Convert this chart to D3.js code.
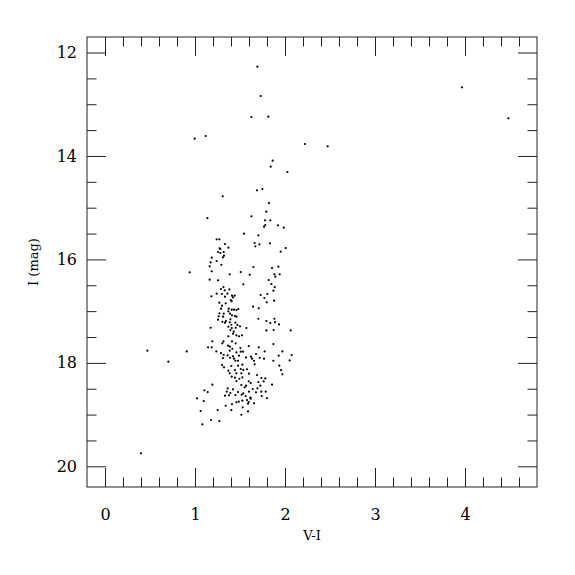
<!DOCTYPE html>
<html>
<head>
<meta charset="utf-8">
<script src="https://cdn.jsdelivr.net/npm/d3@7"></script>
<style>
  html, body { margin: 0; padding: 0; background: #fff; }
  svg { display: block; }
  .axis text { font-family: "DejaVu Serif", serif; font-size: 16px; fill: #000; }
  .axis line { stroke: #222; }
  .label { font-family: "DejaVu Serif", serif; font-size: 13px; fill: #000; }
</style>
</head>
<body>
<script>
// V-I colour index
const vi = [
  1.693, 3.967, 1.730, 1.627, 1.815, 4.482, 0.997, 1.119, 2.222, 2.474,
  1.863, 1.841, 2.027, 1.749, 1.689, 1.308, 1.822,
  1.792, 1.138, 1.627, 1.778, 1.837, 1.781, 1.767, 1.922, 1.986, 1.545,
  1.704, 1.241, 1.271, 1.333, 1.663, 1.716, 1.671, 1.833, 1.274, 1.282,
  1.371, 2.008, 1.256, 1.282, 1.319, 1.952, 1.322, 1.311, 1.186, 1.174,
  1.241, 1.293, 1.163, 1.649, 1.856, 1.927, 1.186, 0.941, 1.508, 1.608,
  1.882, 1.941, 1.386,
  1.893, 1.163, 1.256, 1.819, 1.537, 1.849, 1.316, 1.886, 1.289, 1.330,
  1.382, 1.871, 1.241, 1.300, 1.360, 1.730, 1.804, 1.182, 1.411, 1.441,
  1.333, 1.422, 1.771, 1.397, 1.408, 1.878, 1.271, 1.341, 1.797, 1.300,
  1.645, 1.708, 1.289, 1.374, 1.408, 1.433, 1.460, 1.482, 1.371, 1.271,
  1.319, 1.389, 1.444, 1.411, 1.263, 1.311, 1.460, 1.704, 1.882,
  1.256, 1.304, 1.333, 1.344, 1.393, 1.386, 1.449, 1.793, 1.837, 1.890,
  1.933, 1.404, 1.471, 1.174, 1.371, 1.408, 1.452, 1.500, 1.571, 1.393,
  1.430, 1.793, 1.874, 2.063, 1.422, 1.460, 1.489, 1.522, 1.371, 1.193,
  1.316, 1.304, 1.411, 1.452, 1.871, 1.145, 1.186, 1.367, 1.389, 1.415,
  1.597, 1.504, 1.708, 0.908, 1.237, 1.289, 1.386, 1.460, 1.508, 1.534,
  1.774, 1.971, 1.319, 1.363, 1.422, 1.489, 1.678, 1.930, 2.074, 1.311,
  1.389, 1.433, 1.567, 1.622, 1.634, 1.719, 1.767, 1.449, 1.478, 1.656,
  1.871, 2.052, 0.471, 0.704, 0.400,
  1.300, 1.322, 1.404, 1.478, 1.526, 1.663, 1.937, 1.956, 1.971, 1.371,
  1.444, 1.508, 1.537, 1.578, 1.386, 1.460, 1.515, 1.600, 1.689, 1.408,
  1.444, 1.493, 1.526, 1.737, 1.781, 1.460, 1.597, 1.619, 1.704, 1.763,
  1.856, 1.193, 1.515, 1.567, 1.726, 1.363, 1.422, 1.552, 1.641, 1.693,
  1.104, 1.141, 1.352, 1.393, 1.478, 1.537, 1.600, 1.678, 1.737, 1.786,
  1.333, 1.378, 1.449, 1.519, 1.563, 1.615, 1.741, 1.022,
  1.097, 1.341, 1.411, 1.460, 1.486, 1.526, 1.578, 1.597, 1.619, 1.589,
  1.656, 1.800, 1.063, 1.252, 1.404, 1.530, 1.589, 1.515, 1.178, 1.271,
  1.082
];
// I magnitude
const imag = [
  12.274, 12.673, 12.841, 13.247, 13.241, 13.272, 13.666, 13.614, 13.769, 13.813,
  14.092, 14.208, 14.310, 14.639, 14.664, 14.780, 14.910,
  15.078, 15.200, 15.167, 15.244, 15.244, 15.335, 15.368, 15.341, 15.387, 15.503,
  15.534, 15.612, 15.612, 15.702, 15.683, 15.708, 15.747, 15.689, 15.786, 15.799,
  15.774, 15.780, 15.857, 15.876, 15.857, 15.851, 15.928, 15.960, 15.967, 16.056,
  16.031, 16.103, 16.134, 16.147, 16.166, 16.141, 16.230, 16.250, 16.244, 16.296,
  16.288, 16.288, 16.288,
  16.334, 16.392, 16.405, 16.398, 16.482, 16.476, 16.534, 16.534, 16.572, 16.598,
  16.579, 16.605, 16.663, 16.669, 16.663, 16.688, 16.669, 16.714, 16.702, 16.702,
  16.721, 16.733, 16.746, 16.785, 16.810, 16.798, 16.837, 16.849, 16.830, 16.895,
  16.914, 16.946, 16.953, 16.953, 16.972, 16.972, 16.978, 16.959, 17.004, 17.042,
  17.050, 17.050, 17.094, 17.081, 17.100, 17.107, 17.107, 17.147, 17.147,
  17.166, 17.205, 17.224, 17.191, 17.158, 17.217, 17.224, 17.191, 17.230, 17.211,
  17.256, 17.263, 17.269, 17.321, 17.301, 17.326, 17.321, 17.294, 17.326, 17.365,
  17.398, 17.372, 17.365, 17.372, 17.437, 17.468, 17.487, 17.468, 17.487, 17.584,
  17.584, 17.622, 17.584, 17.622, 17.636, 17.700, 17.700, 17.668, 17.688, 17.727,
  17.675, 17.713, 17.700, 17.778, 17.778, 17.810, 17.765, 17.797, 17.784, 17.784,
  17.778, 17.778, 17.843, 17.855, 17.874, 17.862, 17.829, 17.862, 17.849, 17.907,
  17.901, 17.920, 17.894, 17.881, 17.920, 17.901, 17.920, 17.959, 17.959, 17.959,
  17.959, 17.952, 17.765, 17.978, 19.749,
  18.042, 18.087, 18.061, 18.055, 18.036, 18.028, 18.055, 18.139, 18.222, 18.152,
  18.139, 18.119, 18.139, 18.125, 18.203, 18.203, 18.203, 18.210, 18.235, 18.267,
  18.287, 18.307, 18.280, 18.293, 18.300, 18.351, 18.357, 18.390, 18.370, 18.357,
  18.422, 18.422, 18.428, 18.442, 18.442, 18.493, 18.512, 18.473, 18.506, 18.493,
  18.531, 18.564, 18.558, 18.583, 18.564, 18.589, 18.558, 18.570, 18.558, 18.558,
  18.635, 18.628, 18.622, 18.616, 18.641, 18.674, 18.641, 18.686,
  18.738, 18.829, 18.796, 18.763, 18.751, 18.732, 18.719, 18.757, 18.693, 18.790,
  18.783, 18.680, 18.931, 18.912, 18.912, 18.860, 18.938, 19.003, 19.105, 19.125,
  19.189
];
const xMajor = [0, 1, 2, 3, 4];
const xMinor = [0.2, 0.4, 0.6, 0.8, 1.2, 1.4, 1.6, 1.8, 2.2, 2.4, 2.6, 2.8,
                3.2, 3.4, 3.6, 3.8, 4.2, 4.4, 4.6];
const yMajor = [12, 14, 16, 18, 20];
const yMinor = [12.5, 13, 13.5, 14.5, 15, 15.5, 16.5, 17, 17.5, 18.5, 19, 19.5];
const xTitle = "V-I";
const yTitle = "I (mag)";

const W = 575, H = 575;
const L = 87, T = 37, R = 537, B = 487;
const majLen = 19, minLen = 9.5;

const svg = d3.select("body").append("svg").attr("width", W).attr("height", H);

const x = d3.scaleLinear().domain([-0.2, 4.8]).range([L, R]);
const y = d3.scaleLinear().domain([11.7, 20.4]).range([T, B]);

function addAxis(gen, tx, ty, values, len, pad, labels) {
  const g = svg.append("g").attr("class", "axis").attr("transform", `translate(${tx},${ty})`)
    .call(gen.tickValues(values).tickSizeInner(-len).tickSizeOuter(0).tickPadding(pad)
      .tickFormat(labels ? d3.format("d") : () => ""));
  g.select(".domain").remove();
  return g;
}
// bottom
addAxis(d3.axisBottom(x), 0, B, xMajor, majLen, 21.5, true);
addAxis(d3.axisBottom(x), 0, B, xMinor, minLen, 0, false);
// top
addAxis(d3.axisTop(x), 0, T, xMajor, majLen, 0, false);
addAxis(d3.axisTop(x), 0, T, xMinor, minLen, 0, false);
// left
addAxis(d3.axisLeft(y), L, 0, yMajor, majLen, 10, true);
addAxis(d3.axisLeft(y), L, 0, yMinor, minLen, 0, false);
// right
addAxis(d3.axisRight(y), R, 0, yMajor, majLen, 0, false);
addAxis(d3.axisRight(y), R, 0, yMinor, minLen, 0, false);

svg.append("rect").attr("x", L).attr("y", T).attr("width", R - L).attr("height", B - T)
  .attr("fill", "none").attr("stroke", "#222").attr("stroke-width", 1);

svg.append("g").selectAll("circle").data(vi.map((v, i) => [v, imag[i]])).join("circle")
  .attr("cx", d => x(d[0])).attr("cy", d => y(d[1])).attr("r", 1.1).attr("fill", "#000");

svg.append("text").attr("class", "label").attr("x", (L + R) / 2).attr("y", 540)
  .attr("text-anchor", "middle").text(xTitle);
svg.append("text").attr("class", "label")
  .attr("transform", `translate(38,${(T + B) / 2}) rotate(-90)`)
  .attr("text-anchor", "middle").text(yTitle);
</script>
</body>
</html>
